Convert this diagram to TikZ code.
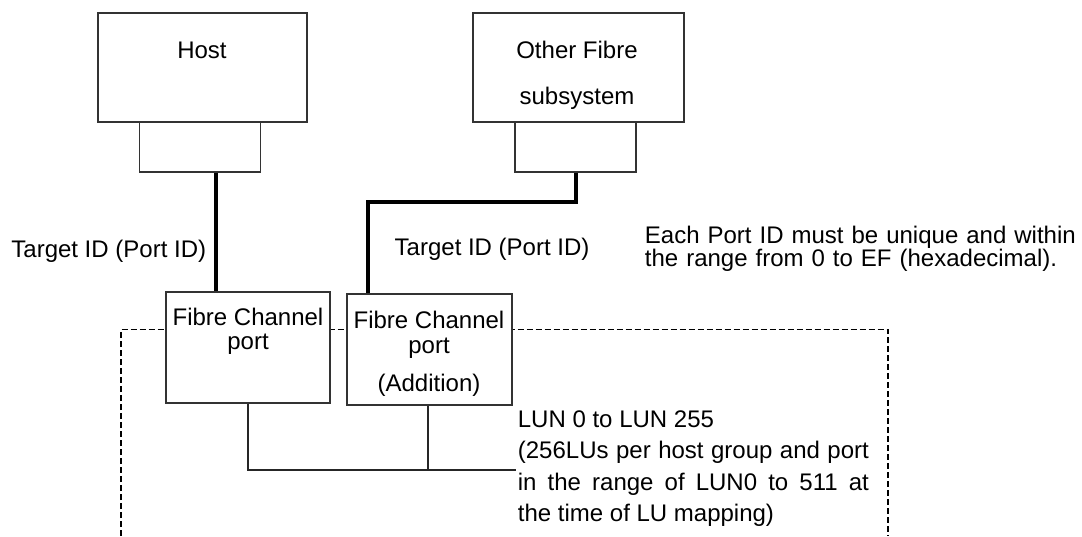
\documentclass[tikz,border=0pt]{standalone}
\usepackage{fontspec}
\setmainfont{Liberation Sans}
\begin{document}
\begin{tikzpicture}[x=1pt,y=-1pt,
  box/.style={draw=black!80, line width=1.4pt, fill=white, inner sep=0pt, rectangle},
  lbl/.style={inner sep=0pt, font=\fontsize{24}{24}\selectfont},
  conn/.style={line width=4pt, line cap=butt},
  thinline/.style={line width=1.4pt, draw=black!85},
  region/.style={line width=1.7pt, dash pattern=on 6pt off 3pt}]
\useasboundingbox (0,0) rectangle (1082,536);
% dashed subsystem region (open at the bottom)
\draw[region] (121,536) -- (121,329.5) -- (888,329.5) -- (888,536);
% boxes
\node[box, minimum width=209, minimum height=109] (host) at (202.5,67.5) {};
\node[box, minimum width=121, minimum height=50] (hp) at (200,147) {};
\node[box, minimum width=211, minimum height=109] (other) at (578.5,67.5) {};
\node[box, minimum width=121, minimum height=50] (op) at (575.5,147) {};
\node[box, minimum width=164, minimum height=111] (fc1) at (248,347.5) {};
\node[box, minimum width=165, minimum height=111] (fc2) at (429.5,349.5) {};
% box texts
\node[lbl, anchor=base] (hostt) at (202,58) {Host};
\node[lbl, anchor=base] (oth1) at (577,58) {Other Fibre};
\node[lbl, anchor=base] (oth2) at (577,104) {subsystem};
\node[lbl, anchor=base] (fc1a) at (248,325) {Fibre Channel};
\node[lbl, anchor=base] (fc1b) at (248,349.5) {port};
\node[lbl, anchor=base] (fc2a) at (429,328.5) {Fibre Channel};
\node[lbl, anchor=base] (fc2b) at (429,353) {port};
\node[lbl, anchor=base] (fc2c) at (429,391) {(Addition)};
% connectors
\coordinate (bend) at (367.7,202);
\coordinate (jend) at (516,470);
\draw[conn] ([xshift=15.5pt]hp.south) -- ([xshift=15.5pt]hp.south |- fc1.north);
\draw[conn] (op.south) |- (bend) -- (bend |- fc2.north);
\draw[thinline] (fc1.south) |- (jend);
\draw[thinline] ([xshift=-1.5pt]fc2.south) -- ([xshift=-1.5pt]fc2.south |- jend);
% labels
\node[lbl, anchor=base west] (t1) at (11.2,257) {Target ID (Port ID)};
\node[lbl, anchor=base west] (t2) at (394.5,255.5) {Target ID (Port ID)};
\node[lbl, anchor=base west, text width=437pt, align=left, font=\fontsize{24}{22.5}\selectfont] (note) at (644.7,243.5)
  {Each Port ID must be unique and within\\the range from 0 to EF (hexadecimal).};
\node[lbl, anchor=base west, text width=351pt, align=justify, font=\fontsize{24}{31.5}\selectfont] (lun) at (517.7,427)
  {\tolerance=9999\hyphenpenalty=10000 LUN 0 to LUN 255\\(256LUs per host group and port\linebreak in the range of LUN0 to 511 at\linebreak the time of LU mapping)};
\end{tikzpicture}
\end{document}
